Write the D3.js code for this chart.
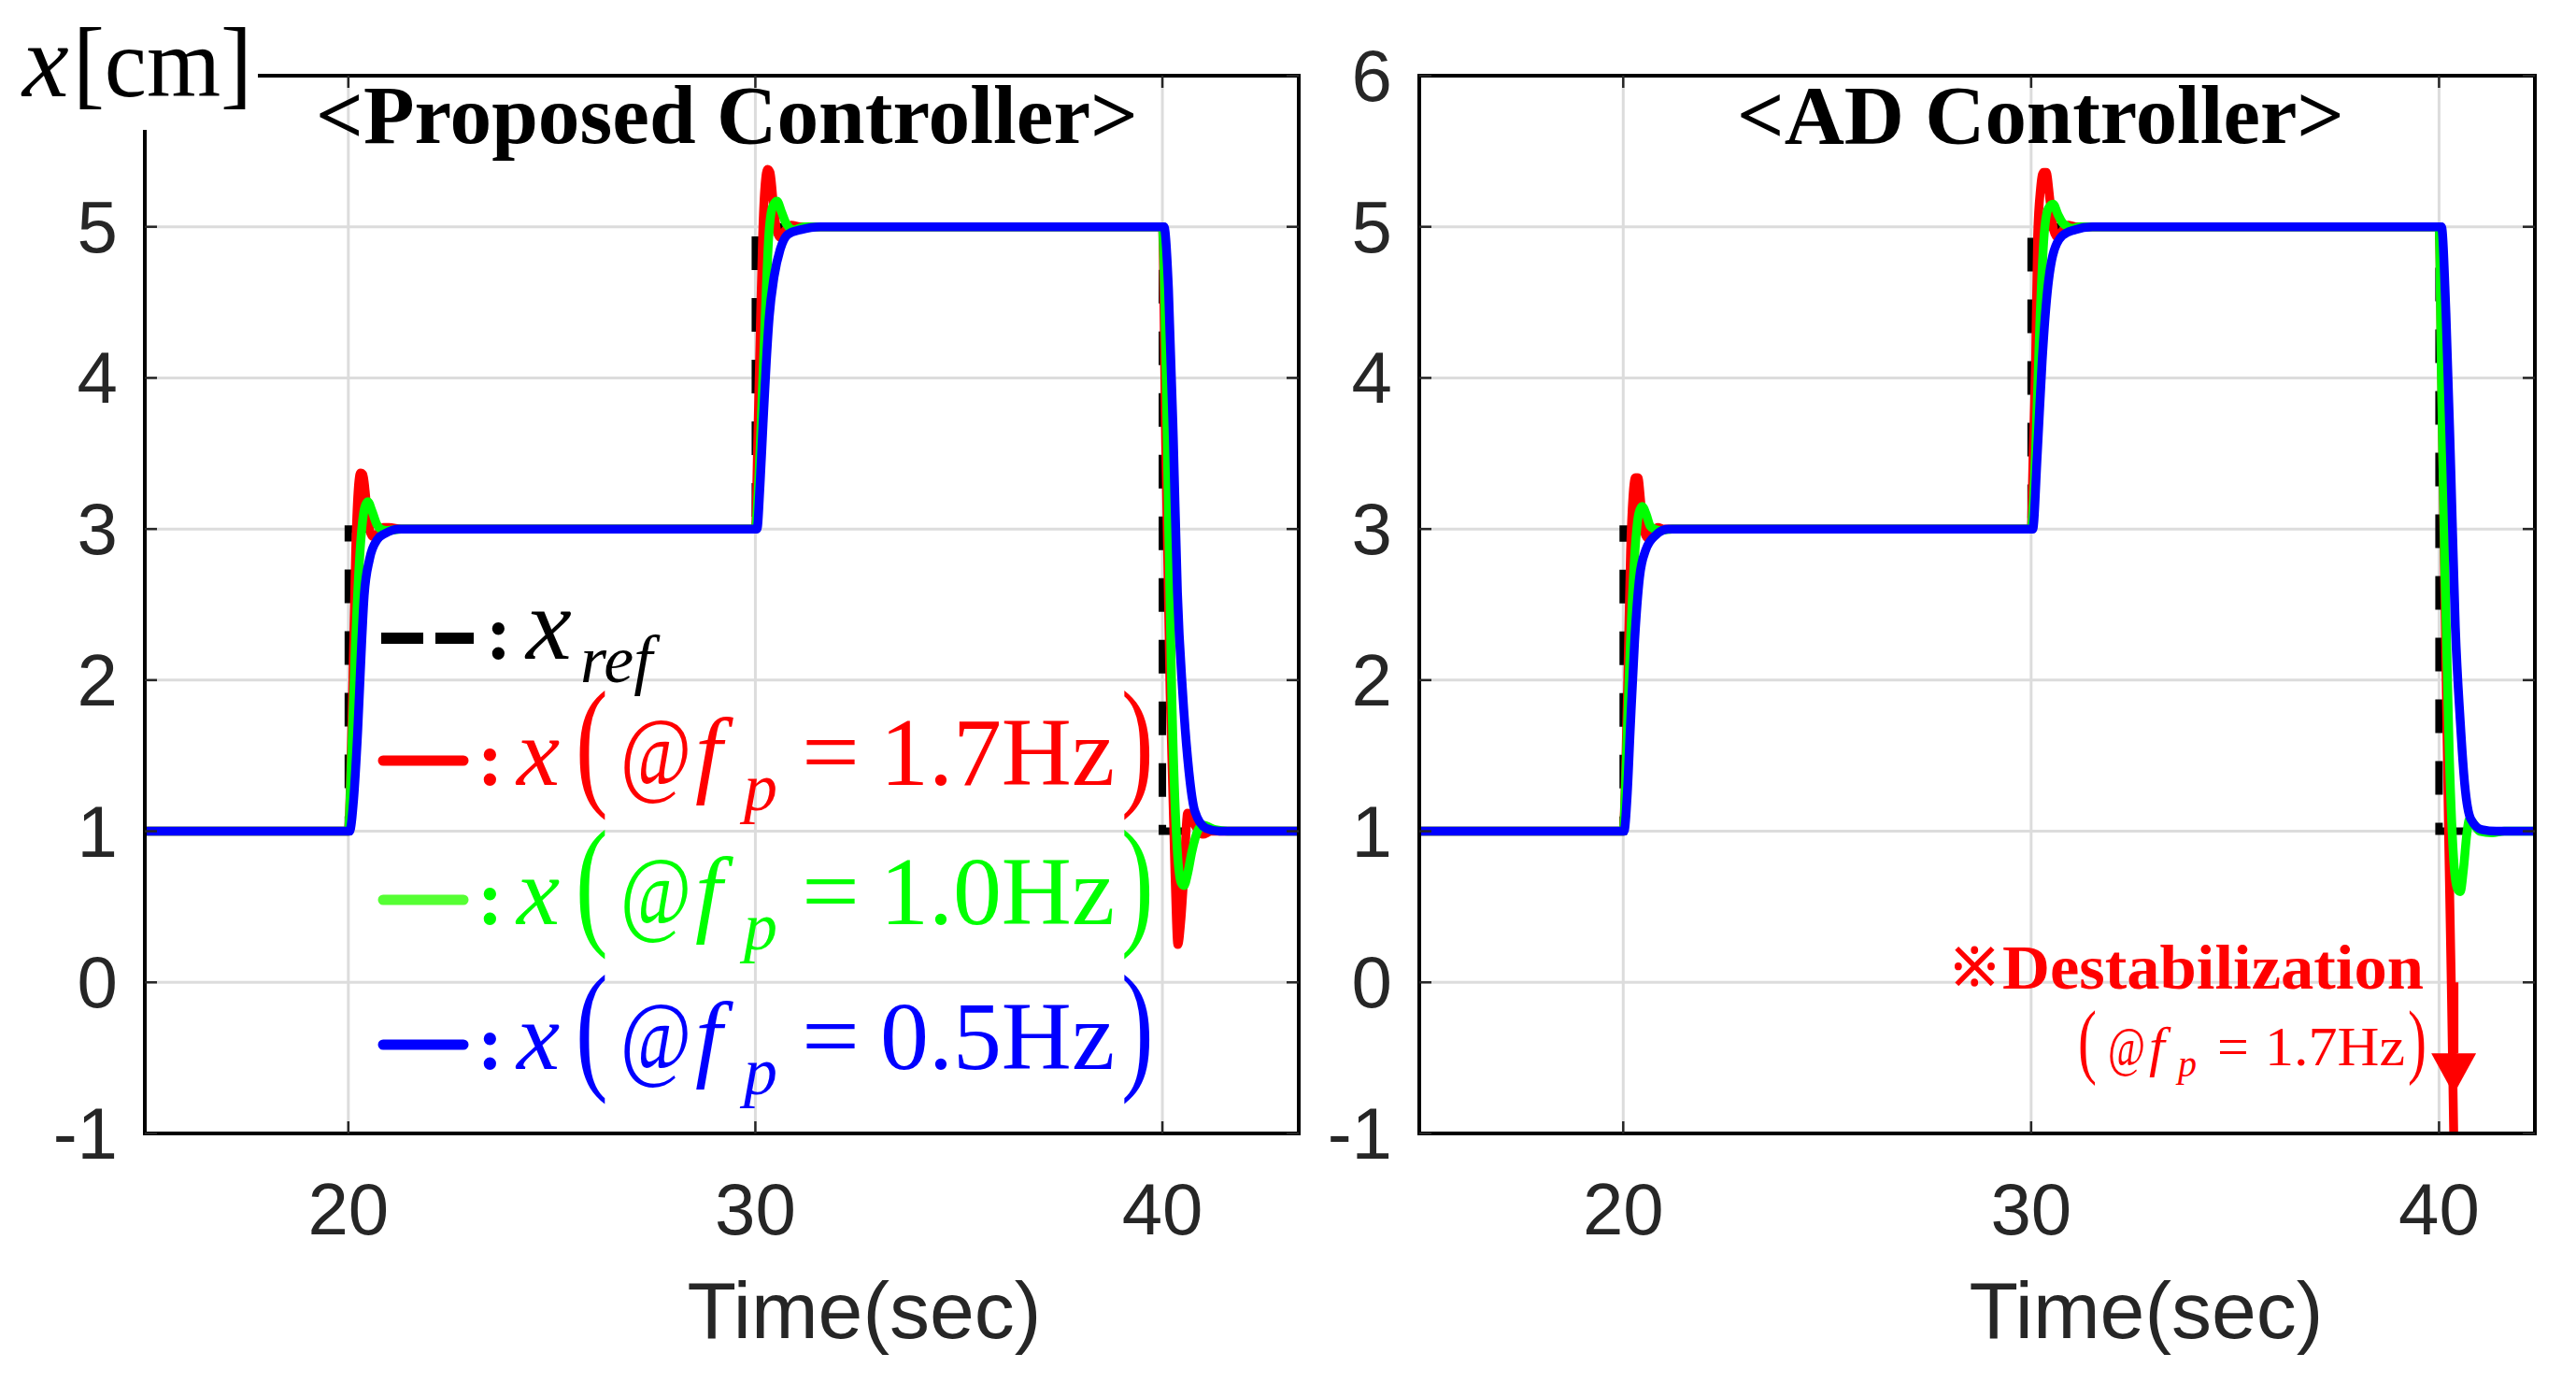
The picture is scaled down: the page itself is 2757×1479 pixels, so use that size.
<!DOCTYPE html>
<html>
<head>
<meta charset="utf-8">
<script src="https://cdn.jsdelivr.net/npm/d3@7"></script>
<style>
  body { margin: 0; background: #fff; }
  svg { display: block; }
</style>
</head>
<body>
<svg id="chart" width="2757" height="1479"></svg>
<script>
// ---- data ----
const xTicks = [20, 30, 40]
const yTicks = [-1, 0, 1, 2, 3, 4, 5, 6]
const panelTitles = ["<Proposed Controller>", "<AD Controller>"]
const xLimits = [[15, 43.35], [15, 42.35]]
const yLimits = [-1, 6]
const legendRates = ["1.7Hz", "1.0Hz", "0.5Hz"]

// reference step x_ref
const refProposed = [[15, 1], [20, 1], [20, 3], [30, 3], [30, 5], [40, 5], [40, 1], [43.35, 1]]
const refAD = [[15, 1], [20, 1], [20, 3], [30, 3], [30, 5], [40, 5], [40, 1], [42.35, 1]]

// proposed controller, f_p = 1.7 / 1.0 / 0.5 Hz
const proposedRed = [
  [15, 1], [20, 1], [20.06, 1.4], [20.12, 2.1], [20.18, 2.85], [20.24, 3.25], [20.3, 3.37], [20.36, 3.36],
  [20.44, 3.18], [20.52, 3.0], [20.6, 2.95], [20.7, 2.96], [20.85, 3.01], [21.0, 3.01], [21.3, 3.0],
  [30, 3], [30.06, 3.6], [30.12, 4.3], [30.18, 4.95], [30.24, 5.28], [30.3, 5.38], [30.36, 5.36],
  [30.44, 5.16], [30.52, 4.98], [30.61, 4.93], [30.72, 4.97], [30.88, 5.01], [31.1, 5.0],
  [40, 5], [40.08, 3.59], [40.19, 1.91], [40.31, 0.72], [40.38, 0.25], [40.45, 0.4], [40.53, 0.72],
  [40.62, 1.12], [40.7, 1.1], [40.8, 1.04], [40.99, 0.98], [41.2, 1.0], [43.35, 1]
]
const proposedGreen = [
  [15, 1], [20, 1], [20.08, 1.5], [20.17, 2.2], [20.3, 2.9], [20.4, 3.14], [20.48, 3.18], [20.58, 3.12],
  [20.7, 3.03], [20.8, 3.0], [20.95, 2.99], [21.3, 3.0],
  [30, 3], [30.06, 3.2], [30.12, 3.55], [30.23, 4.32], [30.33, 4.94], [30.42, 5.13], [30.53, 5.17],
  [30.64, 5.1], [30.76, 5.02], [30.95, 4.98], [31.2, 5.0],
  [40, 5], [40.06, 4.5], [40.12, 3.59], [40.23, 1.91], [40.35, 0.95], [40.46, 0.66], [40.53, 0.64],
  [40.62, 0.72], [40.72, 0.86], [40.88, 1.01], [40.99, 1.04], [41.3, 1.01], [41.6, 1.0], [43.35, 1]
]
const proposedBlue = [
  [15, 1], [20.03, 1], [20.13, 1.21], [20.23, 1.66], [20.33, 2.26], [20.39, 2.56], [20.52, 2.8],
  [20.71, 2.93], [20.9, 2.97], [21.25, 3.0],
  [30.04, 3], [30.115, 3.29], [30.19, 3.7], [30.27, 4.11], [30.34, 4.4], [30.46, 4.67], [30.61, 4.85],
  [30.8, 4.95], [31.11, 4.98], [31.6, 5.0],
  [40.04, 5], [40.15, 4.59], [40.27, 3.59], [40.37, 2.58], [40.5, 1.91], [40.65, 1.4], [40.8, 1.13],
  [41.07, 1.02], [41.4, 1.0], [43.35, 1]
]

// AD controller, f_p = 1.7 / 1.0 / 0.5 Hz
const adRed = [
  [15, 1], [20, 1], [20.06, 1.4], [20.12, 2.1], [20.18, 2.85], [20.24, 3.22], [20.3, 3.34], [20.36, 3.34],
  [20.44, 3.15], [20.52, 2.98], [20.6, 2.94], [20.7, 2.97], [20.85, 3.01], [21.0, 3.0],
  [30, 3], [30.05, 3.5], [30.11, 4.11], [30.16, 4.94], [30.23, 5.25], [30.3, 5.36], [30.37, 5.36],
  [30.46, 5.18], [30.55, 4.98], [30.65, 4.93], [30.76, 4.97], [30.9, 5.01], [31.1, 5.0],
  [40, 5], [40.06, 4.1], [40.12, 3.0], [40.18, 1.9], [40.24, 0.9], [40.3, 0.0], [40.36, -1.0], [40.42, -2.0]
]
const adGreen = [
  [15, 1], [20, 1], [20.08, 1.5], [20.17, 2.2], [20.3, 2.9], [20.38, 3.1], [20.46, 3.15], [20.56, 3.1],
  [20.66, 3.02], [20.76, 3.0], [20.9, 2.99], [21.2, 3.0],
  [30, 3], [30.06, 3.2], [30.12, 3.6], [30.22, 4.4], [30.32, 4.95], [30.42, 5.12], [30.54, 5.15],
  [30.66, 5.08], [30.76, 5.03], [30.84, 5.01], [31.0, 4.99], [31.2, 5.0],
  [40, 5], [40.06, 4.0], [40.14, 2.77], [40.25, 1.52], [40.37, 0.77], [40.45, 0.62], [40.52, 0.6],
  [40.6, 0.75], [40.68, 0.98], [40.75, 1.08], [40.85, 1.05], [41.0, 1.0], [41.3, 0.99], [41.6, 1.0], [42.35, 1]
]
const adBlue = [
  [15, 1], [20.02, 1], [20.1, 1.25], [20.17, 1.66], [20.28, 2.26], [20.4, 2.68], [20.55, 2.86],
  [20.8, 2.96], [21.1, 3.0],
  [30.04, 3], [30.15, 3.49], [30.27, 4.11], [30.38, 4.52], [30.53, 4.81], [30.76, 4.94], [31.07, 4.98], [31.5, 5.0],
  [40.06, 5], [40.17, 4.43], [40.29, 3.39], [40.4, 2.35], [40.52, 1.73], [40.63, 1.31], [40.78, 1.08],
  [41.05, 1.01], [41.4, 1.0], [42.35, 1]
]

// ---- layout / style ----
const SERIF = "'Liberation Serif', 'Times New Roman', Times, serif"
const SANS = "'Liberation Sans', Arial, Helvetica, sans-serif"
const TICK_COLOR = "#262626"
const RED = "#ff0000"
const GREEN = "#00ff00"
const BLUE = "#0000ff"

const frames = [
  {left: 155, right: 1390, titleX: 778, titleLen: 880, labelX: 925},
  {left: 1519, right: 2713, titleX: 2184, titleLen: 650, labelX: 2297}
]
const TOP = 81
const BOTTOM = 1213

const svg = d3.select("#chart")

function drawPanel (i, refData, series) {
  const f = frames[i]
  const x = d3.scaleLinear().domain(xLimits[i]).range([f.left, f.right])
  const y = d3.scaleLinear().domain(yLimits).range([BOTTOM, TOP])
  const g = svg.append("g").attr("class", `panel-${i}`)

  g.append("clipPath").attr("id", `clip-${i}`)
    .append("rect")
    .attr("x", f.left).attr("y", TOP)
    .attr("width", f.right - f.left).attr("height", BOTTOM - TOP)

  // grid
  g.selectAll(".gx").data(xTicks).enter().append("line")
    .attr("x1", d => x(d)).attr("x2", d => x(d))
    .attr("y1", TOP).attr("y2", BOTTOM)
    .attr("stroke", "#dcdcdc").attr("stroke-width", 3)
  g.selectAll(".gy").data(yTicks).enter().append("line")
    .attr("y1", d => y(d)).attr("y2", d => y(d))
    .attr("x1", f.left).attr("x2", f.right)
    .attr("stroke", "#dcdcdc").attr("stroke-width", 3)

  const plot = g.append("g").attr("clip-path", `url(#clip-${i})`)

  const refLine = d3.line().x(d => x(d[0])).y(d => y(d[1]))
  plot.append("path").datum(refData)
    .attr("d", refLine)
    .attr("fill", "none")
    .attr("stroke", "#000")
    .attr("stroke-width", 8)
    .attr("stroke-dasharray", "36,30")

  const line = d3.line().x(d => x(d[0])).y(d => y(d[1])).curve(d3.curveMonotoneX)
  series.forEach(s => {
    plot.append("path").datum(s.data)
      .attr("d", line)
      .attr("fill", "none")
      .attr("stroke", s.color)
      .attr("stroke-width", 9.5)
      .attr("stroke-linejoin", "round")
  })

  // box
  g.append("rect")
    .attr("x", f.left).attr("y", TOP)
    .attr("width", f.right - f.left).attr("height", BOTTOM - TOP)
    .attr("fill", "none").attr("stroke", "#000").attr("stroke-width", 4)

  // ticks (inside, all four sides)
  const TL = 13
  xTicks.forEach(t => {
    g.append("line").attr("x1", x(t)).attr("x2", x(t)).attr("y1", BOTTOM).attr("y2", BOTTOM - TL)
      .attr("stroke", TICK_COLOR).attr("stroke-width", 2.5)
    g.append("line").attr("x1", x(t)).attr("x2", x(t)).attr("y1", TOP).attr("y2", TOP + TL)
      .attr("stroke", TICK_COLOR).attr("stroke-width", 2.5)
  })
  yTicks.forEach(t => {
    g.append("line").attr("x1", f.left).attr("x2", f.left + TL).attr("y1", y(t)).attr("y2", y(t))
      .attr("stroke", TICK_COLOR).attr("stroke-width", 2.5)
    g.append("line").attr("x1", f.right).attr("x2", f.right - TL).attr("y1", y(t)).attr("y2", y(t))
      .attr("stroke", TICK_COLOR).attr("stroke-width", 2.5)
  })

  // tick labels
  g.selectAll(".xl").data(xTicks).enter().append("text")
    .attr("x", d => x(d)).attr("y", 1321)
    .attr("text-anchor", "middle")
    .attr("font-family", SANS).attr("font-size", 78)
    .attr("fill", TICK_COLOR)
    .text(d => d)
  g.selectAll(".yl").data(yTicks).enter().append("text")
    .attr("x", f.left - 29).attr("y", d => y(d) + 27)
    .attr("text-anchor", "end")
    .attr("font-family", SANS).attr("font-size", 78)
    .attr("fill", TICK_COLOR)
    .text(d => d)

  g.append("text")
    .attr("x", f.labelX).attr("y", 1432)
    .attr("text-anchor", "middle")
    .attr("font-family", SANS).attr("font-size", 86)
    .attr("fill", TICK_COLOR)
    .text("Time(sec)")

  g.append("text")
    .attr("x", f.titleX).attr("y", 153)
    .attr("text-anchor", "middle")
    .attr("font-family", SERIF).attr("font-weight", "bold").attr("font-size", 88)
    .attr("textLength", f.titleLen).attr("lengthAdjust", "spacingAndGlyphs")
    .attr("fill", "#000")
    .text(panelTitles[i])

  return {x, y, g}
}

const left = drawPanel(0, refProposed, [
  {data: proposedRed, color: RED},
  {data: proposedGreen, color: GREEN},
  {data: proposedBlue, color: BLUE}
])
const right = drawPanel(1, refAD, [
  {data: adRed, color: RED},
  {data: adGreen, color: GREEN},
  {data: adBlue, color: BLUE}
])

// y-axis label with white patch over the corner of the left box
svg.append("rect").attr("x", 0).attr("y", 0).attr("width", 276).attr("height", 139).attr("fill", "#fff")
svg.append("text")
  .attr("x", 24).attr("y", 103)
  .attr("font-family", SERIF).attr("font-size", 112).attr("font-style", "italic").attr("fill", "#000")
  .text("x")
svg.append("text")
  .attr("x", 78).attr("y", 103)
  .attr("font-family", SERIF).attr("font-size", 106).attr("fill", "#000")
  .attr("textLength", 192).attr("lengthAdjust", "spacingAndGlyphs")
  .text("[cm]")

// ---- legend (left panel) ----
function put (g, str, px, py, opts = {}) {
  const t = g.append("text")
    .attr("font-family", SERIF)
    .attr("font-size", opts.size || 104)
    .attr("fill", opts.color || "#000")
    .text(str)
  if (opts.italic) t.attr("font-style", "italic")
  if (opts.bold) t.attr("font-weight", "bold")
  if (opts.stretch) {
    t.attr("transform", `translate(${px},${py}) scale(1,${opts.stretch})`)
  } else {
    t.attr("x", px).attr("y", py)
  }
  if (opts.len) t.attr("textLength", opts.len).attr("lengthAdjust", "spacingAndGlyphs")
  return t
}

const legend = svg.append("g").attr("class", "legend")

// x_ref row
legend.append("line")
  .attr("x1", 408).attr("x2", 507).attr("y1", 683).attr("y2", 683)
  .attr("stroke", "#000").attr("stroke-width", 12).attr("stroke-dasharray", "45,13")
put(legend, ":", 520, 705, {size: 82, bold: true})
put(legend, "x", 563, 705, {size: 110, italic: true})
put(legend, "ref", 621, 730, {size: 72, italic: true})

const legendColors = [RED, GREEN, BLUE]
const legendSample = [RED, "#55ff33", BLUE]
const legendBase = [840, 989, 1144]
legendRates.forEach((rate, k) => {
  const B = legendBase[k]
  const c = legendColors[k]
  legend.append("line")
    .attr("x1", 410).attr("x2", 496).attr("y1", B - 26).attr("y2", B - 26)
    .attr("stroke", legendSample[k]).attr("stroke-width", 11).attr("stroke-linecap", "round")
  put(legend, ":", 511, B, {size: 82, bold: true, color: c})
  put(legend, "x", 553, B, {italic: true, color: c})
  put(legend, "(", 616, B + 5, {stretch: 1.47, color: c})
  put(legend, "@", 664, B, {color: c, len: 76})
  put(legend, "f", 744, B, {italic: true, color: c})
  put(legend, "p", 796, B + 27, {size: 72, italic: true, color: c})
  put(legend, "=", 858, B, {color: c, len: 62})
  put(legend, rate, 942, B, {color: c, len: 251})
  put(legend, ")", 1200, B + 5, {stretch: 1.47, color: c})
})

// ---- destabilization note (right panel) ----
const note = svg.append("g").attr("class", "note")
put(note, "※", 2090, 1054, {size: 56, color: RED, bold: true})
put(note, "Destabilization", 2143, 1058, {size: 68, bold: true, color: RED, len: 451})
put(note, "(", 2224, 1143, {size: 60, stretch: 1.47, color: RED})
put(note, "@", 2256, 1140, {size: 60, color: RED, len: 40})
put(note, "f", 2300, 1140, {size: 60, italic: true, color: RED})
put(note, "p", 2331, 1152, {size: 40, italic: true, color: RED})
put(note, "=", 2373, 1140, {size: 60, color: RED})
put(note, "1.7Hz", 2424, 1140, {size: 60, color: RED, len: 150})
put(note, ")", 2577, 1143, {size: 60, stretch: 1.47, color: RED})

// arrow pointing down along the diverging red trace
const arrowT = 40.36
const ax = right.x(arrowT)
note.append("line")
  .attr("x1", ax).attr("x2", ax)
  .attr("y1", right.y(0.0)).attr("y2", right.y(-0.47))
  .attr("stroke", RED).attr("stroke-width", 10)
note.append("path")
  .attr("d", `M${ax - 24},${right.y(-0.47)} L${ax + 24},${right.y(-0.47)} L${ax},${right.y(-0.74)} Z`)
  .attr("fill", RED)
</script>
</body>
</html>
